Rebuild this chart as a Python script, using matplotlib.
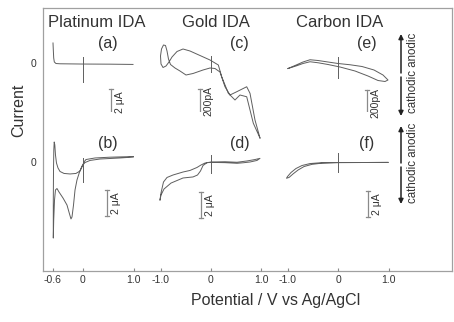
import matplotlib
matplotlib.use("Agg")
import matplotlib.pyplot as plt

plt.rcParams['font.family'] = ['Liberation Sans', 'DejaVu Sans']

# ---- data : potential (V vs Ag/AgCl) and current ----
# Platinum IDA (a), uA
pt_a_v = [-0.594, -0.588, -0.580, -0.568, -0.535, -0.455, 0.0, 0.535, 0.990]
pt_a_i = [1.54, 1.00, 0.38, 0.08, -0.04, -0.06, -0.08, -0.09, -0.11]

# Platinum IDA (b), uA
pt_b_v = [0.996, 0.733, 0.337, 0.139, 0.040, -0.020, -0.069, -0.119, -0.158, -0.188,
          -0.218, -0.238, -0.267, -0.317, -0.396, -0.475, -0.515, -0.545, -0.564, -0.580,
          -0.588, -0.588, -0.584, -0.578, -0.570, -0.558, -0.545, -0.525, -0.495, -0.455,
          -0.376, -0.257, -0.139, -0.059, -0.020, 0.020, 0.059, 0.238, 0.535, 0.996]
pt_b_i = [0.38, 0.31, 0.23, 0.12, -0.04, -0.31, -0.77, -1.38, -2.15, -3.31,
          -4.23, -4.38, -4.00, -3.31, -2.77, -2.31, -2.04, -2.15, -2.92, -4.46,
          -5.85, -2.92, -0.62, 0.92, 1.54, 1.31, 0.54, -0.08, -0.46, -0.73,
          -0.88, -0.92, -0.88, -0.69, -0.38, 0.0, 0.19, 0.31, 0.37, 0.42]

# Gold IDA (c), pA
au_c_v = [0.970, 0.838, 0.707, 0.574, 0.475, 0.343, 0.212, 0.145, -0.020, -0.218,
          -0.416, -0.554, -0.673, -0.772, -0.832, -0.891, -0.950, -0.990, -1.000, -0.980,
          -0.941, -0.901, -0.871, -0.842, -0.802, -0.713, -0.614, -0.495, -0.356, -0.158,
          -0.020, 0.079, 0.178, 0.277, 0.376, 0.509, 0.707, 0.772, 0.871, 0.970]
au_c_i = [-600, -482, -270, -256, -296, -242, -110, -16, 24, 60,
          96, 112, 92, 48, 8, -24, -36, -8, 56, 112,
          144, 140, 96, 32, -12, -40, -64, -96, -84, -56,
          -40, -44, -72, -190, -256, -230, -190, -242, -456, -600]

# Gold IDA (d), uA
au_d_v = [-1.010, -0.990, -0.941, -0.871, -0.752, -0.554, -0.416, -0.277, -0.198, -0.119,
          0.0, 0.277, 0.515, 0.713, 0.871, 0.970, 0.911, 0.772, 0.634, 0.515,
          0.277, 0.0, -0.079, -0.158, -0.208, -0.267, -0.356, -0.554, -0.792, -0.931,
          -0.990, -1.010]
au_d_i = [-2.92, -2.38, -1.54, -1.19, -1.00, -0.77, -0.65, -0.42, -0.23, -0.08,
          0.0, 0.02, -0.02, 0.08, 0.19, 0.28, 0.12, 0.0, -0.06, -0.10,
          -0.05, -0.03, -0.05, -0.27, -0.69, -1.00, -1.15, -1.23, -1.62, -2.08,
          -2.54, -2.92]

# Carbon IDA (e), pA
c_e_v = [-0.990, -0.851, -0.693, -0.554, -0.396, -0.198, 0.0, 0.238, 0.475, 0.713,
         0.891, 0.990, 0.931, 0.792, 0.594, 0.337, 0.040, -0.198, -0.396, -0.554,
         -0.693, -0.832, -0.990]
c_e_i = [-44, -20, 8, 26, 20, 8, -4, -14, -28, -56,
         -96, -136, -148, -140, -104, -64, -32, -12, 2, 10,
         -4, -24, -44]

# Carbon IDA (f), uA
c_f_v = [0.990, 0.436, 0.0, -0.356, -0.554, -0.713, -0.832, -0.931, -1.000, -1.020,
         -0.970, -0.891, -0.792, -0.673, -0.515, -0.317, 0.0, 0.436, 0.990]
c_f_i = [-0.03, -0.04, -0.04, -0.06, -0.12, -0.27, -0.50, -0.81, -1.12, -1.25,
         -1.19, -0.92, -0.62, -0.35, -0.18, -0.09, -0.05, -0.04, -0.03]

titles = ["Platinum IDA", "Gold IDA", "Carbon IDA"]
letters = [["(a)", "(c)", "(e)"], ["(b)", "(d)", "(f)"]]
xticks = [[-0.6, 0, 1.0], [-1.0, 0, 1.0], [-1.0, 0, 1.0]]
xticklabels = [["-0.6", "0", "1.0"], ["-1.0", "0", "1.0"], ["-1.0", "0", "1.0"]]

# ---- layout (pixels, origin top-left) ----
W, H = 454, 322
PX_PER_V = 50.5
cols = [(43, 150, 83), (150, 275, 211), (275, 452, 338)]   # left, right, x of 0 V
rows = [(8, 112, 63), (112, 271, 162)]                       # top, bottom, y of 0 current
TRACE = '#5e5e5e'
GRAY = '#8a8a8a'
TXT = '#333333'


def box(x0, y0, x1, y1):
    return [x0 / W, 1 - y1 / H, (x1 - x0) / W, (y1 - y0) / H]


fig = plt.figure(figsize=(W / 100, H / 100), dpi=100)
frame = fig.add_axes(box(43, 8, 452, 271))
frame.set_xticks([])
frame.set_yticks([])
for s in frame.spines.values():
    s.set_color('#a0a0a0')
    s.set_linewidth(0.9)


def panel(ci, ri, px_per_unit):
    xl, xr, xz = cols[ci]
    yt, yb, yz = rows[ri]
    ax = fig.add_axes(box(xl, yt, xr, yb))
    ax.set_xlim((xl - xz) / PX_PER_V, (xr - xz) / PX_PER_V)
    ax.set_ylim((yz - yb) / px_per_unit, (yz - yt) / px_per_unit)
    ax.patch.set_visible(False)
    for s in ax.spines.values():
        s.set_visible(False)
    ax.set_xticks([])
    ax.set_yticks([])
    return ax


# (column, row, px per unit, V, I, marker range, scale bar (V, I0, I1), bar label)
panels = [
    (0, 0, 13.0, pt_a_v, pt_a_i, (0.46, -1.46), (0.554, -2.0, -4.0), "2 \u03bcA"),
    (0, 1, 13.0, pt_b_v, pt_b_i, (0.31, -1.54), (0.475, -2.15, -4.15), "2 \u03bcA"),
    (1, 0, 0.125, au_c_v, au_c_i, (56, -72), (-0.218, -208, -408), "200pA"),
    (1, 1, 13.0, au_d_v, au_d_i, (0.54, -0.85), (-0.198, -2.3, -4.3), "2 \u03bcA"),
    (2, 0, 0.125, c_e_v, c_e_i, (48, -120), (0.574, -216, -416), "200pA"),
    (2, 1, 13.0, c_f_v, c_f_i, (0.69, -0.77), (0.594, -2.23, -4.23), "2 \u03bcA"),
]

for ci, ri, ppu, v, i, mk, bar, blabel in panels:
    ax = panel(ci, ri, ppu)
    ax.plot(v, i, color=TRACE, lw=0.7, clip_on=False)
    ax.plot([0, 0], list(mk), color=TRACE, lw=0.7)
    # scale bar
    bv, b0, b1 = bar
    ax.plot([bv, bv], [b0, b1], color=GRAY, lw=0.9)
    cap = 0.045
    ax.plot([bv - cap, bv + cap], [b0, b0], color=GRAY, lw=0.9)
    ax.plot([bv - cap, bv + cap], [b1, b1], color=GRAY, lw=0.9)
    ax.text(bv + 0.07, (b0 + b1) / 2, blabel, rotation=90, ha='left', va='center',
            fontsize=7.5, color=TXT)
    # panel letter
    lx = [0.5, 0.57, 0.57][ci]
    ly = 0.66 if ri == 0 else 0.80
    ax.text(lx, ly, letters[ri][ci], transform=ax.get_xaxis_transform(),
            ha='center', va='center', fontsize=11.5, color=TXT)
    if ri == 0:
        tx = [0.28, 0.10, 0.04][ci]
        ax.text(tx, 0.865, titles[ci], transform=ax.get_xaxis_transform(),
                ha='center', va='center', fontsize=12, color=TXT)
    else:
        ax.set_xticks(xticks[ci], xticklabels[ci])
        ax.tick_params(axis='x', direction='in', length=2.5, width=0.8, color=GRAY,
                       labelsize=7.5, labelcolor=TXT, pad=3)
    if ci == 0:
        ax.set_yticks([0], ['0'])
        ax.tick_params(axis='y', length=0, pad=5, labelsize=7.5, labelcolor=TXT)

# axis titles
fig.text(19 / W, 1 - 110 / H, "Current", rotation=90, ha='center', va='center',
         fontsize=11.5, color=TXT)
fig.text(276 / W, 1 - 301 / H, "Potential / V vs Ag/AgCl", ha='center', va='center',
         fontsize=11.5, color=TXT)

# anodic / cathodic arrows
for yc, half in [(75, 41), (165, 39)]:
    for sgn in (-1, 1):
        frame.annotate("", xy=(401, H - (yc + sgn * half)), xycoords='figure pixels',
                       xytext=(401, H - (yc + sgn * 2)), textcoords='figure pixels',
                       arrowprops=dict(arrowstyle='-|>', color='#222222', lw=1.1,
                                       mutation_scale=7, shrinkA=0, shrinkB=0))
    fig.text(413 / W, 1 - (yc - 2) / H, "cathodic anodic", rotation=90, ha='center',
             va='center', fontsize=8.3, color=TXT)

fig.savefig("out.png", dpi=100)
